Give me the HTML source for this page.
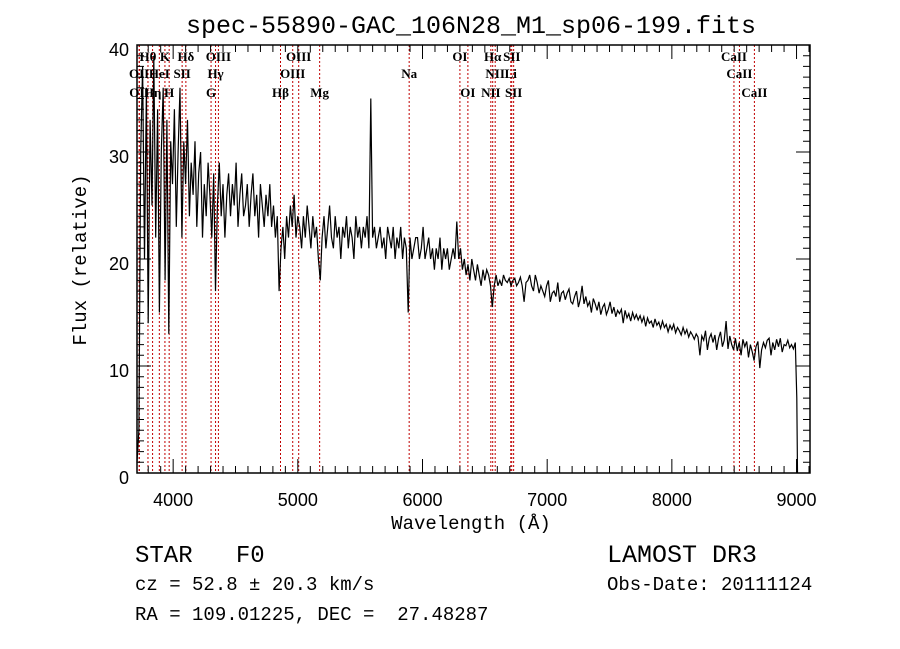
<!DOCTYPE html>
<html><head><meta charset="utf-8"><style>
html,body{margin:0;padding:0;background:#fff;}
svg{display:block;}
text{font-family:"Liberation Sans",sans-serif;fill:#000;white-space:pre;}
.lbl{font-family:"Liberation Serif",serif;font-weight:bold;font-size:13px;}
.mono{font-family:"Liberation Mono",monospace;}
</style></head><body>
<svg id="chart" width="900" height="649" viewBox="0 0 900 649" xmlns="http://www.w3.org/2000/svg" xml:space="preserve">
<rect x="0" y="0" width="900" height="649" fill="#fff"/>
<text x="471" y="33" text-anchor="middle" class="mono" font-size="25">spec-55890-GAC_106N28_M1_sp06-199.fits</text>
<g id="lines"></g>
<g id="labels"></g>
<g id="spec"></g>
<g id="axes"></g>
<text x="471" y="529" text-anchor="middle" class="mono" font-size="19">Wavelength (Å)</text>
<text x="0" y="0" transform="translate(86,260) rotate(-90)" text-anchor="middle" class="mono" font-size="19">Flux (relative)</text>
<text x="135" y="562" class="mono" font-size="24">STAR   F0</text>
<text x="135" y="590" class="mono" font-size="19">cz = 52.8 ± 20.3 km/s</text>
<text x="135" y="620" class="mono" font-size="19">RA = 109.01225, DEC =  27.48287</text>
<text x="607" y="562" class="mono" font-size="25">LAMOST DR3</text>
<text x="607" y="590" class="mono" font-size="19">Obs-Date: 20111124</text>
</svg>
<script>
const xTicks = [4000, 5000, 6000, 7000, 8000, 9000];
const yTicks = [0, 10, 20, 30, 40];
const lineWl = [3727, 3729, 3798, 3835, 3889, 3934, 3968, 4072, 4102, 4304, 4340, 4363, 4861, 4959, 5007, 5175, 5893, 6300, 6364, 6548, 6563, 6583, 6708, 6716, 6731, 8498, 8542, 8662];
const lineName = ["OII","OII","Hθ","Hη","HeI","K","H","SII","Hδ","G","Hγ","OIII","Hβ","OIII","OIII","Mg","Na","OI","OI","NII","Hα","NII","Li","SII","SII","CaII","CaII","CaII"];
const lineRow = [2,3,1,3,2,1,3,2,1,3,2,1,3,2,1,3,2,1,3,3,1,2,2,1,3,1,2,3];
const specStart = 3710;
const specStep = 15;
const flux = [
1,4,30,38,20,36,14,33,25,39,
22,34,15,30,36,18,33,13,31,27,
34,23,30,36,22,31,27,33,24,29,
26,31,23,28,30,22,27,24,29,26,
22,28,17,25,29,24,27,22,26,28,
24,27,25,29,23,26,28,24,25,27,
23,26,28,24,26,22,27,25,23,26,
24,27,23,25,22,24,17,21,23,20,
24,22,25,23,26,22,24,23,21,24,
22,25,23,21,24,22,23,20,18,22,
24,21,23,25,22,21,24,22,23,20,
23,22,24,21,23,22,20,24,22,23,
21,23,22,24,21,35,22,23,21,22,
23,21,22,20,23,22,21,23,20,22,
21,23,20,22,21,15,22,20,21,22,
22,20,21,23,20,21,22,20,21,19,
21,20,22,19,21,20,21,19,20,21,
20,23.5,20,21,19,20,18.5,19.5,18,20,
19,18,19.5,18.5,17.5,19,18,19,18.5,17.5,
15.5,17.5,18.5,17.5,18,17.5,18.5,18,17.8,18.2,
17.5,18,18.2,17.5,17.8,18.3,17.5,16,17.8,18,
18.5,17.5,17,18.5,17.8,16.8,17.5,17,16.5,17.5,
18,16,16.8,17,16.5,17.8,16,16.8,17,16.2,
16.8,17.2,16,15.8,16.5,17,15.5,16.2,17.5,15.8,
16.5,15.6,16,15,16.3,15.8,15.2,16,14.8,15.5,
15.8,14.8,15.3,16,14.9,15.5,14.6,15.2,14.9,15.3,
14,15.2,14.5,14.9,14.2,15,14.4,14.8,14.3,14.7,
14.1,14.6,13.7,14.5,14,14.2,13.6,14.4,13.8,14.1,
13.5,14.2,13.6,13.9,13.2,13.8,13.4,13.9,13.1,13.6,
13.3,12.9,13.6,13,13.4,12.7,13.2,12.9,12.5,13,
12.7,11,12.8,12.4,13.3,11.5,12.6,13,12.2,12.9,
11.5,12.6,13.2,11.8,12.4,14.2,11.6,12.8,12,11.5,
12.6,11.4,12.2,11,12.5,11.8,12.3,10.8,12,11.3,
10.5,11.8,12.3,9.8,11.5,12.2,11.7,12.4,12.6,11,
12.2,11.5,12.5,11.8,12.6,11.3,12,11.9,12.4,11.7,
12,11.6,12.2];
const tailWl = [9002, 9008];
const tailFlux = [7, 0];

const X0=137, X1=810, Y0=473, Y1=45, XMIN=3710, XMAX=9108, YMIN=0, YMAX=40;
const xs = w => X0 + (w - XMIN) / (XMAX - XMIN) * (X1 - X0);
const ys = v => Y0 - (v - YMIN) / (YMAX - YMIN) * (Y0 - Y1);
const NS = "http://www.w3.org/2000/svg";
function mk(tag, attrs, parent){const e=document.createElementNS(NS,tag);for(const k in attrs)e.setAttribute(k,attrs[k]);parent.appendChild(e);return e;}

const gl=document.getElementById('lines'), glab=document.getElementById('labels');
const rowY=[0,61,78,97];
lineWl.forEach((w,i)=>{
  const l=mk('line',{x1:xs(w),x2:xs(w),y1:Y1,y2:Y0,stroke:'#c00000','stroke-width':1,'stroke-dasharray':'2,2'},gl);
  
  
  const t=mk('text',{x:xs(w),y:rowY[lineRow[i]],'text-anchor':'middle',class:'lbl'},glab);
  t.textContent=lineName[i];
  
  
});

const gs=document.getElementById('spec');
let pts=[];
flux.forEach((v,i)=>{pts.push(xs(specStart+i*specStep).toFixed(1)+','+ys(v).toFixed(1));});
tailWl.forEach((w,i)=>{pts.push(xs(w).toFixed(1)+','+ys(tailFlux[i]).toFixed(1));});
const pl=mk('polyline',{points:pts.join(' '),fill:'none',stroke:'#000','stroke-width':1.2,'stroke-linejoin':'miter'},gs);



const ga=document.getElementById('axes');
const fr=mk('rect',{x:X0,y:Y1,width:X1-X0,height:Y0-Y1,fill:'none',stroke:'#000','stroke-width':1.5},ga);


let d='';
for(let w=3800;w<=9100;w+=100){const x=xs(w);const big=w%1000===0;const L=big?14:7;d+=`M${x},${Y0}v${-L}M${x},${Y1}v${L}`;}
for(let v=1;v<40;v++){const y=ys(v);const big=v%10===0;const L=big?14:7;d+=`M${X0},${y}h${L}M${X1},${y}h${-L}`;}
const tk=mk('path',{d:d,stroke:'#000','stroke-width':1,fill:'none'},ga);


xTicks.forEach(w=>{const t=mk('text',{x:xs(w),y:Y0+33,'text-anchor':'middle','font-size':18},ga);t.textContent=w;
  
  });
yTicks.forEach(v=>{const t=mk('text',{x:X0-8,y:ys(v)+11,'text-anchor':'end','font-size':18},ga);t.textContent=v;
  
  });
</script>
</body></html>
